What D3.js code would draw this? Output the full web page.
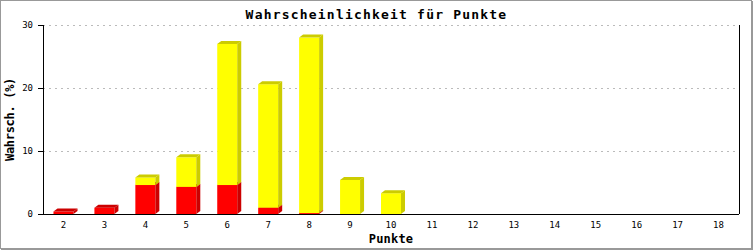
<!DOCTYPE html>
<html>
<head>
<meta charset="utf-8">
<script src="https://cdn.jsdelivr.net/npm/d3@7"></script>
<style>
  body { margin: 0; background: #fff; }
  svg { display: block; }
  text { font-family: "DejaVu Sans Mono", "Liberation Mono", monospace; fill: #000; }
</style>
</head>
<body>
<div class="chart"></div>
<script>
// data
var punkte = ["2","3","4","5","6","7","8","9","10","11","12","13","14","15","16","17","18"];
var redValues = [0.4, 1.0, 4.6, 4.3, 4.6, 1.0, 0.15, 0, 0, 0, 0, 0, 0, 0, 0, 0, 0];
var yellowValues = [0, 0, 1.2, 4.7, 22.4, 19.6, 27.85, 5.4, 3.3, 0, 0, 0, 0, 0, 0, 0, 0];
var yTicks = [0, 10, 20, 30];

var svgWidth = 753;
var svgHeight = 250;

var margin = { top: 25, right: 14, bottom: 36, left: 43 };
var width = svgWidth - margin.left - margin.right;
var height = svgHeight - margin.top - margin.bottom;

var svg = d3.select(".chart")
  .append("svg")
  .attr("width", svgWidth)
  .attr("height", svgHeight);

// frame
svg.append("rect")
  .attr("x", 0.5).attr("y", 0.5)
  .attr("width", svgWidth - 2).attr("height", svgHeight - 2)
  .attr("fill", "#fff")
  .attr("stroke", "#999");
svg.append("line")
  .attr("x1", svgWidth - 0.5).attr("x2", svgWidth - 0.5)
  .attr("y1", 1).attr("y2", svgHeight)
  .attr("stroke", "#999");
svg.append("line")
  .attr("x1", 1).attr("x2", svgWidth)
  .attr("y1", svgHeight - 0.5).attr("y2", svgHeight - 0.5)
  .attr("stroke", "#999");

var chartGroup = svg.append("g")
  .attr("transform", `translate(${margin.left}, ${margin.top})`);

var xScale = d3.scaleBand()
  .domain(punkte)
  .range([0, width]);

var yScale = d3.scaleLinear()
  .domain([0, 30])
  .range([height, 0]);

// dashed grid lines
chartGroup.selectAll(".grid")
  .data(yTicks.filter(d => d > 0))
  .enter()
  .append("line")
  .attr("class", "grid")
  .attr("x1", 0)
  .attr("x2", width)
  .attr("y1", d => Math.round(yScale(d)) + 0.5)
  .attr("y2", d => Math.round(yScale(d)) + 0.5)
  .attr("stroke", "#bbb")
  .attr("stroke-dasharray", "2,4");

// stacked 3D-ish bars
var barW = 20;
var dx = 4, dy = 3;
var rows = punkte.map((p, i) => ({ p: p, red: redValues[i], yellow: yellowValues[i] }));

function drawSegment(g, x0, v0, v1, front, dark) {
  var x1 = x0 + barW;
  var yb = yScale(v0);
  var yt = yScale(v1);
  g.append("rect")
    .attr("x", x0).attr("y", yt)
    .attr("width", barW).attr("height", yb - yt)
    .attr("fill", front);
  g.append("path")
    .attr("d", `M${x0},${yt}L${x0 + dx},${yt - dy}L${x1 + dx},${yt - dy}L${x1},${yt}Z`)
    .attr("fill", dark);
  g.append("path")
    .attr("d", `M${x1},${yt}L${x1 + dx},${yt - dy}L${x1 + dx},${yb - dy}L${x1},${yb}Z`)
    .attr("fill", dark);
}

rows.forEach(function(d) {
  var x0 = xScale(d.p) + xScale.bandwidth() / 2 - barW / 2;
  var g = chartGroup.append("g");
  if (d.red > 0) drawSegment(g, x0, 0, d.red, "#ff0000", "#cc0000");
  if (d.yellow > 0) drawSegment(g, x0, d.red, d.red + d.yellow, "#ffff00", "#cccc00");
});

// axes
var leftAxis = d3.axisLeft(yScale)
  .tickValues(yTicks)
  .tickSize(5)
  .tickPadding(5);
var yAxis = chartGroup.append("g")
  .call(leftAxis);
yAxis.select(".domain").attr("d", `M0.5,${height}V0`);
yAxis.selectAll("text").attr("font-size", "9px").attr("font-family", "DejaVu Sans Mono, monospace");

var bottomAxis = d3.axisBottom(xScale)
  .tickSize(0)
  .tickPadding(8);
var xAxis = chartGroup.append("g")
  .attr("transform", `translate(0, ${height})`)
  .call(bottomAxis);
xAxis.select(".domain").attr("d", `M0,0.5H${width}`);
xAxis.selectAll("text").attr("font-size", "9px").attr("font-family", "DejaVu Sans Mono, monospace");

// right frame line of plot area
chartGroup.append("line")
  .attr("x1", width + 0.5).attr("x2", width + 0.5)
  .attr("y1", 0).attr("y2", height)
  .attr("stroke", "#000");

// title and labels
svg.append("text")
  .attr("x", svgWidth / 2)
  .attr("y", 19)
  .attr("text-anchor", "middle")
  .attr("font-size", "13px")
  .attr("font-weight", "bold")
  .attr("letter-spacing", "1.2px")
  .text("Wahrscheinlichkeit für Punkte");

svg.append("text")
  .attr("x", margin.left + width / 2)
  .attr("y", 243)
  .attr("text-anchor", "middle")
  .attr("font-size", "12px")
  .attr("font-weight", "bold")
  .attr("letter-spacing", "0.2px")
  .text("Punkte");

svg.append("text")
  .attr("transform", `translate(14, ${margin.top + height / 2}) rotate(-90)`)
  .attr("text-anchor", "middle")
  .attr("font-size", "12px")
  .attr("font-weight", "bold")
  .attr("letter-spacing", "-0.3px")
  .text("Wahrsch. (%)");
</script>
</body>
</html>
